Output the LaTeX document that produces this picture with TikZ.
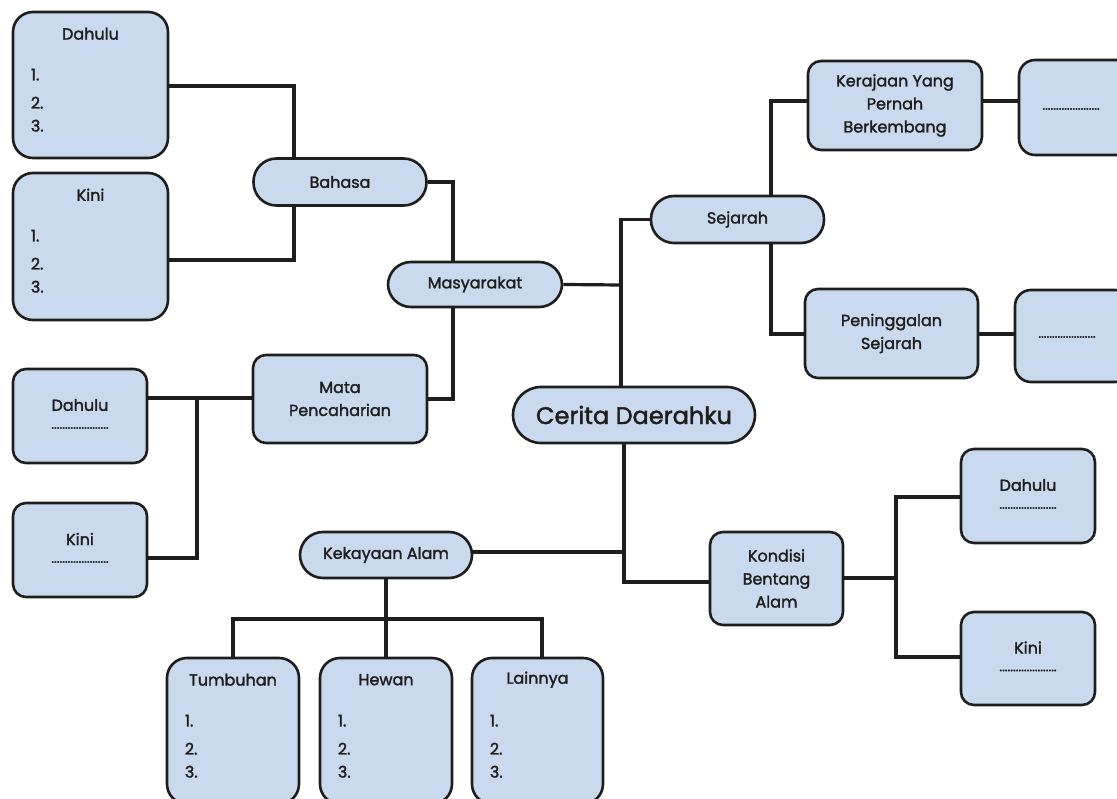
\documentclass[tikz,border=0pt]{standalone}
\usepackage{fontspec}
\setmainfont{Poppins}[FakeBold=1.8]
\usetikzlibrary{calc}
\definecolor{boxfill}{HTML}{C9D9EE}
\definecolor{ink}{HTML}{1E1E1E}
\newcommand{\dotrow}{{\fontsize{13}{14}\selectfont .....................}}
\begin{document}
\begin{tikzpicture}[x=1pt,y=-1pt,
  every node/.style={font=\fontsize{16}{23}\selectfont, text=ink},
  box/.style={draw=ink, line width=2.6pt, fill=boxfill, rounded corners=#1, inner sep=0pt, align=center},
  box/.default=14pt,
  pill/.style={draw=ink, line width=2.6pt, fill=boxfill, rounded corners=23pt, inner sep=0pt, minimum height=47pt, minimum width=173pt},
  conn/.style={draw=ink, line width=3.2pt},
  num/.style={inner sep=0pt, anchor=west}
]
\useasboundingbox (0,0) rectangle (1117,799);
\clip (0,0) rectangle (1117,799);
\fill[white] (0,0) rectangle (1117,799);

% ---------- junction points ----------
\coordinate (jA) at (294,86);
\coordinate (jB) at (294,260);
\coordinate (jC) at (453,182);
\coordinate (jD) at (621,285);
\coordinate (jE) at (771,220);
\coordinate (jF) at (624,552);
\coordinate (jG) at (896,578);
\coordinate (jH) at (197,398);
\coordinate (jI) at (386,619);

% ---------- nodes ----------
\node[box=20pt, minimum width=155pt, minimum height=146pt] (dtl) at (90.5,85) {};
\node[box=20pt, minimum width=155pt, minimum height=147pt] (ktl) at (90.5,246.5) {};
\node[pill] (bahasa) at (340,182) {Bahasa};
\node[pill, minimum width=174pt, minimum height=45pt] (masy) at (475,284.5) {Masyarakat};
\node[pill] (sejarah) at (737.5,219.5) {Sejarah};
\node[pill, minimum width=242pt, minimum height=56pt, rounded corners=28pt, font=\fontsize{24}{28}\selectfont] (cerita) at (634,415) {Cerita Daerahku};
\node[pill, minimum width=172pt, minimum height=46pt] (kek) at (386,555) {Kekayaan Alam};

\node[box=13pt, minimum width=174pt, minimum height=88pt] (mata) at (340,399) {Mata\\Pencaharian};
\node[box=13pt, minimum width=134pt, minimum height=94pt] (dml) at (80,416) {};
\node[box=13pt, minimum width=134pt, minimum height=94pt] (kml) at (80,550) {};

\node[box=13pt, minimum width=174pt, minimum height=89pt] (kerajaan) at (895,105.5) {Kerajaan Yang\\Pernah\\Berkembang};
\node[box=16pt, minimum width=116pt, minimum height=95pt] (r1) at (1077,107.5) {};
\node[box=13pt, minimum width=173pt, minimum height=89pt] (peninggalan) at (891.5,333.5) {Peninggalan\\Sejarah};
\node[box=16pt, minimum width=116pt, minimum height=92pt] (r2) at (1073,336) {};

\node[box=13pt, minimum width=133pt, minimum height=93pt] (kondisi) at (776.5,578.5) {Kondisi\\Bentang\\Alam};
\node[box=13pt, minimum width=134pt, minimum height=94pt] (dr) at (1028,496) {};
\node[box=13pt, minimum width=134pt, minimum height=93pt] (kr) at (1028,658.5) {};

\node[box=20pt, minimum width=132pt, minimum height=146pt] (tumb) at (233,731) {};
\node[box=20pt, minimum width=132pt, minimum height=146pt] (hewan) at (386,731) {};
\node[box=20pt, minimum width=131pt, minimum height=146pt] (lain) at (537.5,731) {};

% ---------- connectors ----------
\draw[conn] (dtl.east |- jA) -| ([xshift=-46pt]bahasa.north);
\draw[conn] (ktl.east |- jB) -| ([xshift=-46pt]bahasa.south);
\draw[conn] (bahasa.east) -| (masy.north -| jC);
\draw[conn] (masy.south -| jC) |- (mata.east);
\draw[conn] (masy.east) -- (jD);
\draw[conn] (sejarah.west) -| (cerita.north -| jD);
\draw[conn] (sejarah.north -| jE) |- (kerajaan.west |- 0,101);
\draw[conn] (sejarah.south -| jE) |- (peninggalan.west |- 0,334);
\draw[conn] (kerajaan.east |- 0,101) -- (r1.west |- 0,101);
\draw[conn] (peninggalan.east |- 0,334) -- (r2.west |- 0,334);
\draw[conn] (cerita.south -| jF) |- (kondisi.west |- 0,582);
\draw[conn] (kek.east |- jF) -- (jF);
\draw[conn] (kondisi.east |- jG) -- (jG);
\draw[conn] (dr.west |- 0,497) -| (jG) |- (kr.west |- 0,657);
\draw[conn] (mata.west |- jH) -- (dml.east |- jH);
\draw[conn] (jH) |- (kml.east |- 0,558);
\draw[conn] (kek.south) -- (hewan.north);
\draw[conn] (tumb.north |- 0,658) |- (jI) -| (lain.north -| 542,0);

% ---------- texts in list boxes ----------
\foreach \b/\t in {dtl/Dahulu, ktl/Kini, tumb/Tumbuhan, hewan/Hewan, lain/Lainnya}{
  \node[inner sep=0pt] at ($(\b.north)+(0,23)$) {\t};
  \node[num] at ($(\b.north west)+(19,64)$) {1.};
  \node[num] at ($(\b.north west)+(19,92)$) {2.};
  \node[num] at ($(\b.north west)+(19,115)$) {3.};
}
\foreach \b/\t in {dml/Dahulu, kml/Kini, dr/Dahulu, kr/Kini}{
  \node[inner sep=0pt] at ($(\b.center)+(0,-11)$) {\t};
  \node[inner sep=0pt] at ($(\b.center)+(0,12)$) {\dotrow};
}
\node[inner sep=0pt] at (1071,109) {\dotrow};
\node[inner sep=0pt] at (1067,337) {\dotrow};
\end{tikzpicture}
\end{document}
